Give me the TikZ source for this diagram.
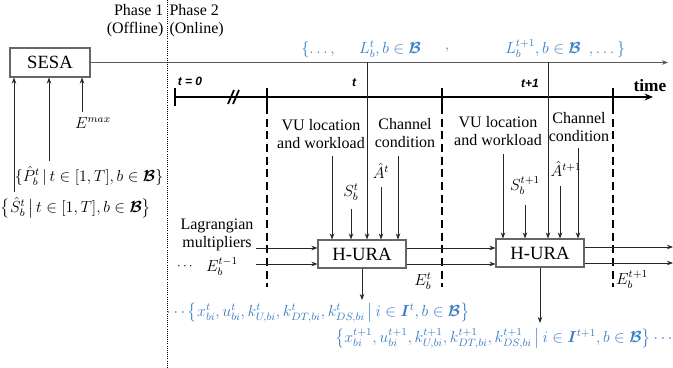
\documentclass[tikz,border=0pt]{standalone}
\usepackage{amsmath,bm}
\usepackage{fontspec}
\setmainfont{Liberation Serif}
\newfontfamily\axisfont{Liberation Sans}
\usetikzlibrary{arrows.meta}
\definecolor{resblue}{HTML}{3B7DC4}
\newcommand{\Bset}{\bm{\mathcal{B}}}

\begin{document}
\begin{tikzpicture}[x=0.75pt, y=-0.75pt,
      every node/.style={font=\fontsize{12}{13.5}\selectfont, inner sep=1pt},
      blk/.style={draw=black!60, line width=0.8pt, fill=white, minimum width=66pt, minimum height=21pt, font=\fontsize{14}{16}\selectfont},
      feed/.style={-{Stealth[length=1.6mm, width=1.2mm]}, line width=0.6pt, black!85},
      slot/.style={line width=1.2pt, dash pattern=on 6pt off 3.5pt},
      tick/.style={line width=1.3pt},
      tlab/.style={font=\axisfont\bfseries\itshape\fontsize{9}{10}\selectfont},
      blue/.style={text=resblue}]
    \useasboundingbox (0,0) rectangle (673,367);
    % offline phase
    \node[blk, minimum width=60pt, minimum height=21.75pt] (sesa) at (50,62.5) {SESA};
    \coordinate (topend) at (668,62.5);
    \draw[feed, black!65] (sesa.east) -- (topend);
    \coordinate (ph1) at (167,0);
    \coordinate (ph2) at (167,367);
    \draw[densely dotted, line width=0.6pt] (ph1) -- (ph2);
    \node[anchor=east, align=right] (off) at (165,21) {Phase 1\\(Offline)};
    \node[anchor=west, align=left] (on) at (168,21) {Phase 2\\(Online)};
    \coordinate (sin1) at (14,192);
    \coordinate (sin2) at (49,161);
    \coordinate (sin3) at (82,112);
    \draw[feed] (sin1) -- (sin1 |- sesa.south);
    \draw[feed] (sin2) -- (sin2 |- sesa.south);
    \draw[feed] (sin3) -- (sin3 |- sesa.south);
    \node (emax) at (93,123) {$E^{max}$};
    \node (phat) at (89,176) {$\{\hat{P}_b^t\,|\,t\in[1,T],b\in\Bset\}$};
    \node (shat) at (76,208) {$\bigl\{\hat{S}_b^t\,\big|\,t\in[1,T],b\in\Bset\bigr\}$};
    % time axis
    \coordinate (t0) at (175,97);
    \coordinate (tend) at (653,97);
    \draw[tick, -{Stealth[length=2.2mm, width=1.8mm]}] (t0) -- (tend);
    \draw[tick] (t0) ++(0,-9) -- ++(0,18);
    \draw[tick] (228,104) -- (234,90) (233,104) -- (239,90);
    \foreach \x in {267,442,613} {
      \draw[tick] (\x,88) -- (\x,106);
      \draw[slot] (\x,106) -- (\x,287);
    }
    \node[tlab] (tzero) at (190,81) {t = 0};
    \node[tlab] (tnow) at (354,83) {t};
    \node[tlab] (tnext) at (530,83) {t+1};
    \node[font=\bfseries\fontsize{13}{14}\selectfont] (time) at (650,86) {time};
    % location broadcast
    \node[blue] (lopen) at (318,50) {$\{\dots,$};
    \node[blue] (ltnow) at (390,49) {$L_b^t, b\in\Bset$};
    \node[blue] (lcomma) at (447,50) {$,$};
    \node[blue] (ltnext) at (543,49) {$L_b^{t+1}, b\in\Bset$};
    \node[blue] (lclose) at (607,50) {$, \dots\}$};
    % online slots
    \node[blk] (hura1) at (362,254) {H-URA};
    \node[blk] (hura2) at (540,253) {H-URA};
    \node[align=center] (vu1) at (321,134) {VU location\\and workload};
    \node[align=center] (ch1) at (405,133) {Channel\\condition};
    \node[align=center] (vu2) at (498,131) {VU location\\and workload};
    \node[align=center] (ch2) at (579,127) {Channel\\condition};
    \node (snow) at (351,192) {$S_b^t$};
    \node (anow) at (381,171) {$\hat{A}^t$};
    \node (snext) at (525,186) {$S_b^{t+1}$};
    \node (anext) at (566,169) {$\hat{A}^{t+1}$};
    \coordinate (a1) at (332,156);
    \coordinate (a2) at (351,209);
    \coordinate (a3) at (367,62.5);
    \coordinate (a4) at (381,187);
    \coordinate (a5) at (398,156);
    \coordinate (b1) at (503,154);
    \coordinate (b2) at (525,205);
    \coordinate (b3) at (548,62.5);
    \coordinate (b4) at (560,186);
    \coordinate (b5) at (578,148);
    \foreach \c in {a1,a2,a3,a4,a5} \draw[feed] (\c) -- (\c |- hura1.north);
    \foreach \c in {b1,b2,b3,b4,b5} \draw[feed] (\c) -- (\c |- hura2.north);
    \node[align=center] (lag) at (217,235) {Lagrangian\\multipliers};
    \node[font=\bfseries] (edots) at (186,267) {$\cdots$};
    \node (eprev) at (222,267) {$E_b^{t-1}$};
    \coordinate (lagin) at (256,248);
    \coordinate (ein) at (256,264);
    \draw[feed] (lagin) -- (lagin -| hura1.west);
    \draw[feed] (ein) -- (ein -| hura1.west);
    \draw[feed] (lagin -| hura1.east) -- (lagin -| hura2.west);
    \draw[feed] (ein -| hura1.east) -- (ein -| hura2.west);
    \coordinate (out1) at (673,247);
    \coordinate (out2) at (673,263);
    \draw[feed] (out1 -| hura2.east) -- (out1);
    \draw[feed] (out2 -| hura2.east) -- (out2);
    \node (enow) at (423,281) {$E_b^t$};
    \node (enext) at (632,280) {$E_b^{t+1}$};
    % decisions
    \coordinate (d1) at (362,300);
    \coordinate (d2) at (540,323);
    \draw[feed] (hura1.south) -- (d1);
    \draw[feed] (hura2.south) -- (d2);
    \node[blue] (res1) at (318,313) {$\cdots\left\{x_{bi}^t, u_{bi}^t, k_{U,bi}^t, k_{DT,bi}^t, k_{DS,bi}^t\,\middle|\,i\in\bm{I}^t, b\in\Bset\right\}$};
    \node[blue] (res2) at (505,339) {$\left\{x_{bi}^{t+1}, u_{bi}^{t+1}, k_{U,bi}^{t+1}, k_{DT,bi}^{t+1}, k_{DS,bi}^{t+1}\,\middle|\,i\in\bm{I}^{t+1}, b\in\Bset\right\}\cdots$};
  \end{tikzpicture}
\end{document}
